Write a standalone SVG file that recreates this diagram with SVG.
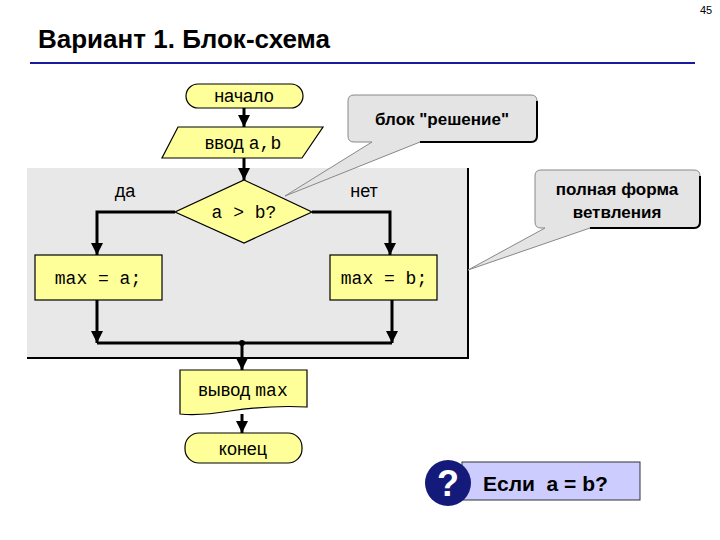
<svg xmlns="http://www.w3.org/2000/svg" width="720" height="540" viewBox="0 0 720 540">
<style>
.blk{fill:#ffff99;stroke:#000;stroke-width:1.2}
.s{font-family:"Liberation Sans",Arial,sans-serif;font-size:18px;text-anchor:middle}
.m{font-family:"Liberation Mono","Courier New",monospace;font-size:18px;text-anchor:middle}
.c{stroke:#000;stroke-width:3;fill:none}
.call{fill:#e4e4e4;stroke:#888;stroke-width:1}
.b{font-family:"Liberation Sans",Arial,sans-serif;font-size:17px;font-weight:bold;text-anchor:middle}
</style>
<defs>
<marker id="ar" viewBox="0 0 10 10" refX="10" refY="5" markerWidth="12" markerHeight="12" orient="auto" markerUnits="userSpaceOnUse"><path d="M0,0L10,5L0,10z"/></marker></defs>
<rect width="720" height="540" fill="#fff"/>
<text x="700" y="14" font-family="Liberation Sans,sans-serif" font-size="11">45</text>
<text x="38" y="48" font-family="Liberation Sans,sans-serif" font-size="26" font-weight="bold">Вариант 1. Блок-схема</text>
<line x1="30" y1="63" x2="695" y2="63" stroke="#1a1aa0" stroke-width="2"/>
<rect x="27" y="168" width="441" height="190" fill="#e8e8e8"/>
<polyline points="468,168 468,358 27,358" fill="none" stroke="#000" stroke-width="2"/>
<g id="callout1"><path class="call" d="M354,95H531Q537,95 537,101V136Q537,142 531,142H420L285,196L372,142H354Q348,142 348,136V101Q348,95 354,95Z"/><path d="M537,101V136Q537,142 531,142H420" fill="none" stroke="#000" stroke-width="2"/><text class="b" x="442" y="125">блок "решение"</text></g>
<g id="callout2"><path class="call" d="M541,170H694Q700,170 700,176V222Q700,228 694,228H590L468,270L545,228H541Q535,228 535,222V176Q535,170 541,170Z"/><path d="M700,176V222Q700,228 694,228H590" fill="none" stroke="#000" stroke-width="2"/><text class="b" x="617" y="195">полная форма</text><text class="b" x="617" y="218">ветвления</text></g>
<g id="connectors" class="c">
<line x1="244" y1="108" x2="244" y2="127" marker-end="url(#ar)"/>
<line x1="244" y1="158" x2="244" y2="180" marker-end="url(#ar)"/>
<polyline points="175,212 97,212 97,255" marker-end="url(#ar)"/>
<polyline points="312,212 390,212 390,255" marker-end="url(#ar)"/>
<line x1="97" y1="300" x2="97" y2="343" marker-end="url(#ar)"/>
<line x1="392" y1="300" x2="392" y2="343" marker-end="url(#ar)"/>
<line x1="97" y1="343" x2="392" y2="343"/>
<line x1="242" y1="343" x2="242" y2="370" marker-end="url(#ar)"/>
<line x1="242" y1="414" x2="242" y2="433" marker-end="url(#ar)"/>
<circle cx="242" cy="343" r="3" fill="#000" stroke="none"/>
</g>
<g id="start"><rect class="blk" x="186" y="84" width="117" height="24" rx="12"/><text class="s" x="244" y="102">начало</text></g>
<g id="input"><polygon class="blk" points="178,127 323,127 302,158 162,158"/><text class="s" x="243" y="149">ввод <tspan font-family="Liberation Mono,monospace">a,b</tspan></text></g>
<g id="cond"><polygon class="blk" points="244,180 312,212 244,243 175,212"/><text class="m" x="244" y="218">a &gt; b?</text></g>
<text class="s" x="125" y="197">да</text><text class="s" x="364" y="197">нет</text>
<g id="maxa"><rect class="blk" x="35" y="255" width="127" height="45"/><text class="m" x="98" y="284">max = a;</text></g>
<g id="maxb"><rect class="blk" x="330" y="255" width="107" height="45"/><text class="m" x="384" y="284">max = b;</text></g>
<g id="output"><path class="blk" d="M180,370H307V407Q270,405 230,411Q200,416 180,414Z"/><text class="s" x="243" y="396">вывод <tspan font-family="Liberation Mono,monospace">max</tspan></text></g>
<g id="end"><rect class="blk" x="185" y="433" width="117" height="30" rx="14"/><text class="s" x="243" y="455">конец</text></g>
<g id="question"><rect x="462" y="462" width="178" height="38" fill="#ccccff" stroke="#333"/><circle cx="448" cy="483" r="23" fill="#141a7a"/><text x="448" y="496" text-anchor="middle" font-family="Liberation Sans,sans-serif" font-size="36" font-weight="bold" fill="#fff">?</text><text x="483" y="491" font-family="Liberation Sans,sans-serif" font-size="21" font-weight="bold" xml:space="preserve">Если  a = b?</text></g>
</svg>
